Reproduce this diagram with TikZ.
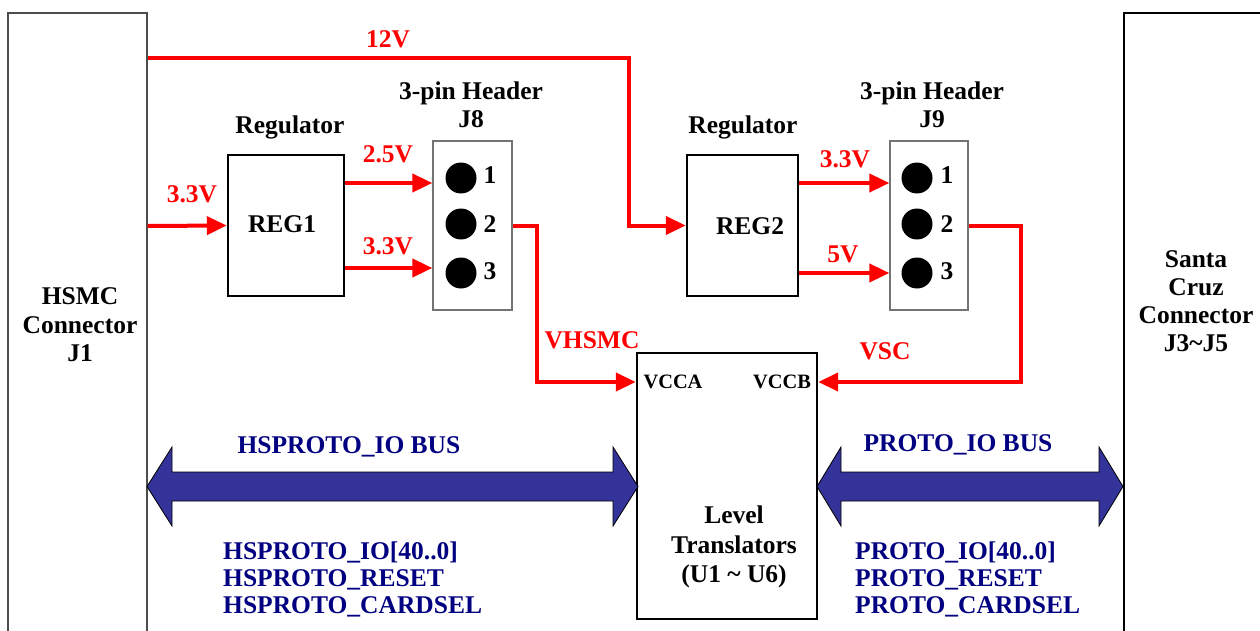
\documentclass[tikz,border=0pt]{standalone}
\usepackage{fontspec}
\setmainfont{Liberation Serif}
\usetikzlibrary{arrows.meta}
\definecolor{pwr}{RGB}{255,0,0}
\definecolor{busfill}{RGB}{51,51,153}
\definecolor{navy}{RGB}{0,0,128}
\begin{document}
\begin{tikzpicture}[x=1pt,y=-1pt,
  box/.style={draw=black,line width=2.4pt,inner sep=0},
  hdr/.style={draw=black!55,line width=1.3pt,inner sep=0},
  conn/.style={draw=black!70,line width=1.2pt,inner sep=0},
  txt/.style={font=\bfseries\fontsize{25.5}{28}\selectfont,inner sep=0,anchor=base},
  stxt/.style={txt,font=\bfseries\fontsize{20.4}{24}\selectfont},
  rtxt/.style={txt,text=pwr},
  btxt/.style={txt,text=navy},
  pw/.style={draw=pwr,line width=4pt},
  pa/.style={pw,-{Triangle[length=20pt,width=18pt]}},
  pindot/.style={circle,fill=black,minimum size=31pt,inner sep=0},
  bus/.style={fill=busfill,draw=black,line width=0.8pt}]
\useasboundingbox (0,0) rectangle (1260,631);

% connectors
\node[conn,minimum width=139pt,minimum height=700pt] (hsmc) at (77.5,363) {};
\node[box,minimum width=196pt,minimum height=700pt] (sc) at (1222,363) {};
\node[txt] (hsmc1) at (80,304) {HSMC};
\node[txt] (hsmc2) at (80,333) {Connector};
\node[txt] (hsmc3) at (80,361) {J1};
\node[txt] (sc1) at (1196,267) {Santa};
\node[txt] (sc2) at (1196,295) {Cruz};
\node[txt] (sc3) at (1196,323) {Connector};
\node[txt] (sc4) at (1196,351) {J3\textasciitilde J5};

% regulators
\node[box,minimum width=116pt,minimum height=141pt] (reg1) at (286,225.5) {};
\node[txt] (reg1t) at (282,232) {REG1};
\node[txt] (reg1l) at (290,134) {Regulator};
\node[box,minimum width=111pt,minimum height=141pt] (reg2) at (742.5,225.5) {};
\node[txt] (reg2t) at (750,234) {REG2};
\node[txt] (reg2l) at (743,134) {Regulator};

% headers
\node[hdr,minimum width=79pt,minimum height=169pt] (j8) at (472.5,225.5) {};
\node[txt] (j8l1) at (471,100) {3-pin Header};
\node[txt] (j8l2) at (471,128) {J8};
\node[pindot] (j8p1) at (461,178) {};
\node[pindot] (j8p2) at (461,224) {};
\node[pindot] (j8p3) at (461,273) {};
\node[txt] (j8n1) at (490,184) {1};
\node[txt] (j8n2) at (490,232) {2};
\node[txt] (j8n3) at (490,279) {3};

\node[hdr,minimum width=78pt,minimum height=169pt] (j9) at (929,225.5) {};
\node[txt] (j9l1) at (932,100) {3-pin Header};
\node[txt] (j9l2) at (932,128) {J9};
\node[pindot] (j9p1) at (917,178) {};
\node[pindot] (j9p2) at (917,224) {};
\node[pindot] (j9p3) at (917,273) {};
\node[txt] (j9n1) at (947,184) {1};
\node[txt] (j9n2) at (947,232) {2};
\node[txt] (j9n3) at (947,279) {3};

% level translators
\node[box,minimum width=180pt,minimum height=266pt] (lt) at (727,486) {};
\node[stxt] (vcca) at (673,388) {VCCA};
\node[stxt] (vccb) at (782,388) {VCCB};
\node[txt] (lt1) at (734,523) {Level};
\node[txt] (lt2) at (734,553) {Translators};
\node[txt] (lt3) at (734,582) {(U1 \textasciitilde\ U6)};

% power lines
\coordinate (h12) at (hsmc.east |- 0,58);
\coordinate (h33) at (hsmc.east |- 0,226);
\draw[pa] (h12) -- (629,58) |- (reg2.west);
\draw[pa] (h33) -- (reg1.west);
\draw[pa] (reg1.east |- 0,183) -- (j8.west |- 0,183);
\draw[pa] (reg1.east |- 0,268) -- (j8.west |- 0,268);
\draw[pa] (reg2.east |- 0,183) -- (j9.west |- 0,183);
\draw[pa] (reg2.east |- 0,273) -- (j9.west |- 0,273);
\draw[pa] (j8.east |- 0,226) -- (537,226) |- (lt.west |- 0,382);
\draw[pa] (j9.east |- 0,226) -- (1021,226) |- (lt.east |- 0,382);

\node[rtxt] (l12) at (388,48) {12V};
\node[rtxt] (l33in) at (192,203) {3.3V};
\node[rtxt] (l25) at (388,163) {2.5V};
\node[rtxt] (l33a) at (388,254) {3.3V};
\node[rtxt] (l33b) at (845,168) {3.3V};
\node[rtxt] (l5) at (843,262) {5V};
\node[rtxt] (lvh) at (592,348) {VHSMC};
\node[rtxt] (lvs) at (885,359) {VSC};

% buses
\draw[bus] (147,486.5) -- (172,447) -- (172,472) -- (613,472) -- (613,447) -- (638,486.5)
  -- (613,526) -- (613,501) -- (172,501) -- (172,526) -- cycle;
\draw[bus] (817,486.5) -- (841,447) -- (841,472) -- (1099,472) -- (1099,447) -- (1123,486.5)
  -- (1099,526) -- (1099,501) -- (841,501) -- (841,526) -- cycle;

\node[btxt] (hsbus) at (349,453) {HSPROTO\_IO BUS};
\node[btxt,anchor=base west] (hs1) at (223,559) {HSPROTO\_IO[40..0]};
\node[btxt,anchor=base west] (hs2) at (223,586) {HSPROTO\_RESET};
\node[btxt,anchor=base west] (hs3) at (223,613) {HSPROTO\_CARDSEL};
\node[btxt] (pbus) at (958,451) {PROTO\_IO BUS};
\node[btxt,anchor=base west] (p1) at (855,559) {PROTO\_IO[40..0]};
\node[btxt,anchor=base west] (p2) at (855,586) {PROTO\_RESET};
\node[btxt,anchor=base west] (p3) at (855,613) {PROTO\_CARDSEL};
\end{tikzpicture}
\end{document}
